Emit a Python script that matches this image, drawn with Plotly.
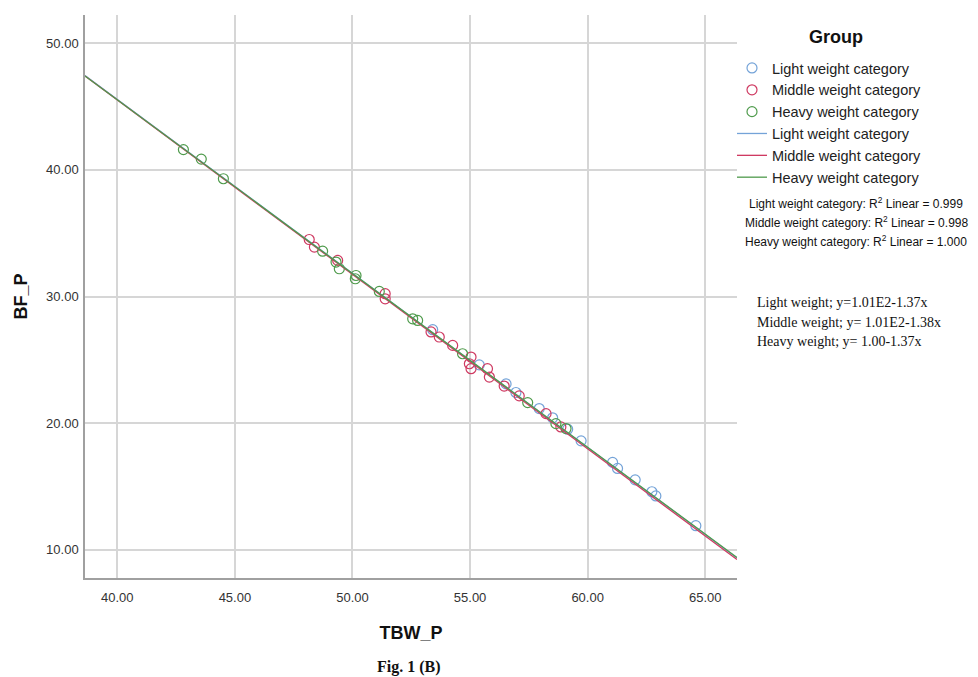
import numpy as np
import plotly.graph_objects as go

# ---- data ----
groups = ["Light weight category", "Middle weight category", "Heavy weight category"]

light_tbw = [53.41, 55.39, 56.53, 56.95, 57.94, 58.51, 59.15, 59.72, 61.06, 61.27, 62.02, 62.73, 62.90, 64.60]
light_bf = [27.38, 24.60, 23.10, 22.42, 21.15, 20.42, 19.52, 18.60, 16.90, 16.42, 15.52, 14.58, 14.25, 11.90]

middle_tbw = [48.16, 48.38, 49.37, 51.39, 51.39, 53.34, 53.69, 54.26, 55.04, 54.97, 55.04, 55.74, 55.82, 56.45, 57.09, 58.23, 58.86]
middle_bf = [34.50, 33.90, 32.85, 30.22, 29.82, 27.20, 26.80, 26.14, 25.22, 24.69, 24.30, 24.30, 23.64, 22.93, 22.15, 20.75, 19.70]

heavy_tbw = [42.81, 43.57, 44.51, 48.73, 49.30, 49.44, 50.15, 50.12, 51.14, 52.56, 52.77, 54.68, 57.45, 58.65, 59.08]
heavy_bf = [41.60, 40.85, 39.30, 33.58, 32.72, 32.19, 31.66, 31.40, 30.40, 28.24, 28.11, 25.48, 21.62, 19.96, 19.57]

# fit lines as drawn in the reference (intercept, slope)
fit_intercept = [100.55, 100.62, 100.40]
fit_slope = [-1.3745, -1.3775, -1.3718]

r2_labels = ["Light weight category: R<sup>2</sup> Linear = 0.999",
             "Middle weight category: R<sup>2</sup> Linear = 0.998",
             "Heavy weight category: R<sup>2</sup> Linear = 1.000"]
equations = ["Light weight; y=1.01E2-1.37x",
             "Middle weight; y= 1.01E2-1.38x",
             "Heavy weight; y= 1.00-1.37x"]

x_ticks = [40, 45, 50, 55, 60, 65]
y_ticks = [10, 20, 30, 40, 50]
x_range = [38.626, 66.35]
y_range = [7.77, 52.23]

colors = ["#74a3d8", "#cf3a62", "#4f9b4c"]

xs = [light_tbw, middle_tbw, heavy_tbw]
ys = [light_bf, middle_bf, heavy_bf]

W, H = 978, 677
ML, MR, MT, MB = 85, 241, 15, 99
PW, PH = W - ML - MR, H - MT - MB


def px_x(p):
    return (p - ML) / PW


def px_y(p):
    return (H - MB - p) / PH


fig = go.Figure()

for name, x, y, c in zip(groups, xs, ys, colors):
    fig.add_trace(go.Scatter(
        x=x, y=y, mode="markers", name=name,
        marker=dict(symbol="circle-open", size=10, color=c, line=dict(width=1.2, color=c)),
    ))

xl = np.array(x_range)
for name, b0, b1, c in zip(groups, fit_intercept, fit_slope, colors):
    fig.add_trace(go.Scatter(
        x=xl, y=b0 + b1 * xl, mode="lines", name=name,
        line=dict(color=c, width=1.3),
    ))

fig.update_layout(
    width=W, height=H, autosize=False,
    margin=dict(l=ML, r=MR, t=MT, b=MB, autoexpand=False),
    paper_bgcolor="white", plot_bgcolor="white",
    font=dict(family="Arial, Liberation Sans, sans-serif", color="#222"),
    showlegend=True,
    legend=dict(
        xref="paper", yref="paper",
        x=px_x(732), y=px_y(52), xanchor="left", yanchor="top",
        font=dict(size=14.5, color="#222"),
        tracegroupgap=0, bgcolor="rgba(0,0,0,0)",
    ),
)

fig.update_xaxes(
    range=x_range, tickvals=x_ticks, ticktext=[f"{v:.2f}" for v in x_ticks],
    showgrid=True, gridcolor="#d6d6d6", gridwidth=1.5,
    showline=True, linecolor="#a0a0a0", linewidth=1.5, zeroline=False,
    ticks="", ticklabelstandoff=7,
    tickfont=dict(size=13, color="#333"),
    title=dict(text="<b>TBW_P</b>", font=dict(size=18, color="#111"), standoff=22),
)
fig.update_yaxes(
    range=y_range, tickvals=y_ticks, ticktext=[f"{v:.2f}" for v in y_ticks],
    showgrid=True, gridcolor="#d6d6d6", gridwidth=1.5,
    showline=True, linecolor="#a0a0a0", linewidth=1.5, zeroline=False,
    ticks="", ticklabelstandoff=2,
    tickfont=dict(size=13, color="#333"),
    title=dict(text="<b>BF_P</b>", font=dict(size=18, color="#111"), standoff=14),
)

# legend heading
fig.add_annotation(
    xref="paper", yref="paper", x=px_x(836), y=px_y(37),
    text="<b>Group</b>", showarrow=False, xanchor="center", yanchor="middle",
    font=dict(size=18, color="#111"),
)

for i, t in enumerate(r2_labels):
    fig.add_annotation(
        xref="paper", yref="paper", x=px_x(856), y=px_y(203 + 19 * i),
        text=t, showarrow=False, xanchor="center", yanchor="middle",
        font=dict(size=12, color="#111", family="Arial, Liberation Sans, sans-serif"),
    )

for i, t in enumerate(equations):
    fig.add_annotation(
        xref="paper", yref="paper", x=px_x(755), y=px_y(302 + 20 * i),
        text=t, showarrow=False, xanchor="left", yanchor="middle",
        font=dict(size=14, color="#111", family="Liberation Serif, Times New Roman, serif"),
    )

fig.add_annotation(
    xref="paper", yref="paper", x=px_x(409), y=px_y(667),
    text="<b>Fig. 1 (B)</b>", showarrow=False, xanchor="center", yanchor="middle",
    font=dict(size=16, color="#111", family="Liberation Serif, Times New Roman, serif"),
)

fig.write_html(
    "out.html",
    config={"responsive": False, "displayModeBar": False},
    post_script="document.body.style.margin='0';document.body.style.overflow='hidden';",
)
